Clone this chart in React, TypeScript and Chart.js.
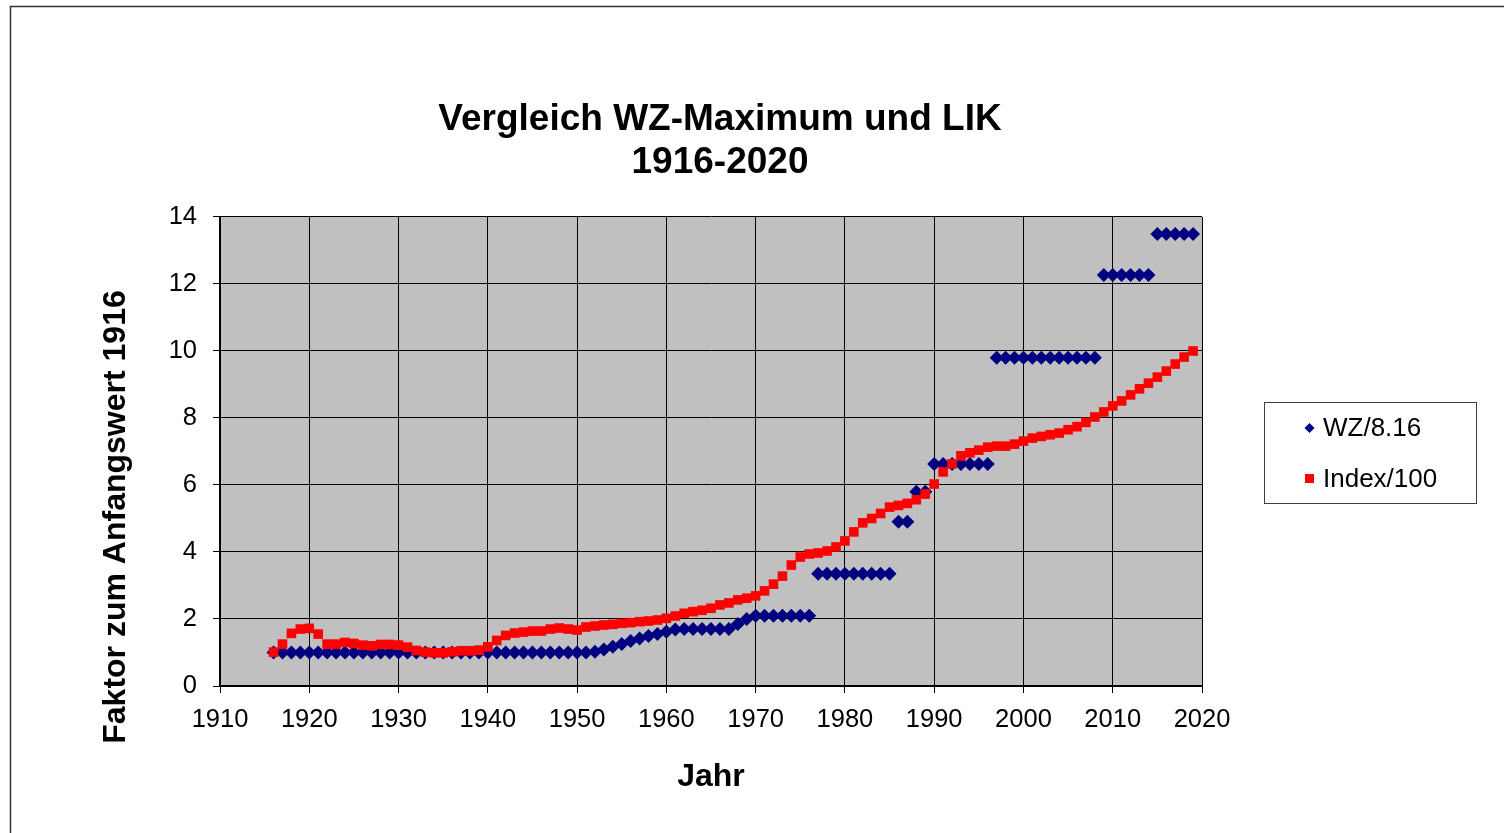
import React, { useEffect, useRef } from 'react';
import { Chart, registerables } from 'chart.js';

Chart.register(...registerables);

const FONT = "'Liberation Sans', Arial, Helvetica, sans-serif";

const titleLines = ['Vergleich WZ-Maximum und LIK', '1916-2020'];
const xAxisTitle = 'Jahr';
const yAxisTitle = 'Faktor zum Anfangswert 1916';
const seriesLabels = ['WZ/8.16', 'Index/100'];

const years = [
  1916, 1917, 1918, 1919, 1920, 1921, 1922, 1923, 1924, 1925,
  1926, 1927, 1928, 1929, 1930, 1931, 1932, 1933, 1934, 1935,
  1936, 1937, 1938, 1939, 1940, 1941, 1942, 1943, 1944, 1945,
  1946, 1947, 1948, 1949, 1950, 1951, 1952, 1953, 1954, 1955,
  1956, 1957, 1958, 1959, 1960, 1961, 1962, 1963, 1964, 1965,
  1966, 1967, 1968, 1969, 1970, 1971, 1972, 1973, 1974, 1975,
  1976, 1977, 1978, 1979, 1980, 1981, 1982, 1983, 1984, 1985,
  1986, 1987, 1988, 1989, 1990, 1991, 1992, 1993, 1994, 1995,
  1996, 1997, 1998, 1999, 2000, 2001, 2002, 2003, 2004, 2005,
  2006, 2007, 2008, 2009, 2010, 2011, 2012, 2013, 2014, 2015,
  2016, 2017, 2018, 2019,
];

// WZ/8.16
const wzValues = [
  1.0, 1.0, 1.0, 1.0, 1.0, 1.0, 1.0, 1.0, 1.0, 1.0,
  1.0, 1.0, 1.0, 1.0, 1.0, 1.0, 1.0, 1.0, 1.0, 1.0,
  1.0, 1.0, 1.0, 1.0, 1.0, 1.0, 1.0, 1.0, 1.0, 1.0,
  1.0, 1.0, 1.0, 1.0, 1.0, 1.0, 1.02, 1.09, 1.17, 1.25,
  1.34, 1.42, 1.49, 1.55, 1.62, 1.69, 1.7, 1.7, 1.7, 1.7,
  1.7, 1.7, 1.85, 2.0, 2.1, 2.1, 2.1, 2.1, 2.1, 2.1,
  2.1, 3.35, 3.35, 3.35, 3.35, 3.35, 3.35, 3.35, 3.35, 3.35,
  4.9, 4.9, 5.8, 5.8, 6.63, 6.63, 6.63, 6.63, 6.63, 6.63,
  6.63, 9.8, 9.8, 9.8, 9.8, 9.8, 9.8, 9.8, 9.8, 9.8,
  9.8, 9.8, 9.8, 12.27, 12.27, 12.27, 12.27, 12.27, 12.27, 13.49,
  13.49, 13.49, 13.49, 13.49,
];

// Index/100
const indexValues = [
  1.01, 1.25, 1.57, 1.7, 1.72, 1.55, 1.25, 1.25, 1.3, 1.27,
  1.22, 1.2, 1.24, 1.24, 1.22, 1.16, 1.06, 1.01, 0.99, 0.99,
  1.02, 1.05, 1.05, 1.07, 1.17, 1.36, 1.51, 1.58, 1.61, 1.64,
  1.64, 1.7, 1.73, 1.7, 1.67, 1.76, 1.79, 1.82, 1.84, 1.87,
  1.89, 1.92, 1.94, 1.97, 2.02, 2.09, 2.17, 2.22, 2.26, 2.32,
  2.42, 2.48, 2.57, 2.62, 2.69, 2.84, 3.04, 3.28, 3.61, 3.85,
  3.94, 3.97, 4.03, 4.15, 4.33, 4.6, 4.87, 5.0, 5.15, 5.34,
  5.39, 5.45, 5.56, 5.73, 6.03, 6.39, 6.63, 6.87, 6.96, 7.04,
  7.13, 7.16, 7.16, 7.22, 7.31, 7.4, 7.45, 7.5, 7.55, 7.65,
  7.74, 7.87, 8.03, 8.18, 8.36, 8.51, 8.69, 8.87, 9.04, 9.22,
  9.4, 9.61, 9.82, 10.0,
];

const xTickValues = [1910, 1920, 1930, 1940, 1950, 1960, 1970, 1980, 1990, 2000, 2010, 2020];
const yTickValues = [0, 2, 4, 6, 8, 10, 12, 14];

const wzColor = '#000080';
const indexColor = '#FF0000';
const plotBg = '#C0C0C0';

const backgroundPlugin = {
  id: 'backgroundPlugin',
  afterLayout(chart: any) {
    // Title is centred a little right of the plot centre in the reference
    const t = chart.titleBlock;
    if (t) {
      t.left += 9;
      t.right += 9;
    }
  },
  beforeDraw(chart: any) {
    const { ctx, chartArea } = chart;
    ctx.save();
    ctx.strokeStyle = '#333333';
    ctx.lineWidth = 1.5;
    ctx.beginPath();
    ctx.moveTo(10.5, chart.height);
    ctx.lineTo(10.5, 6.5);
    ctx.lineTo(chart.width, 6.5);
    ctx.stroke();
    ctx.fillStyle = plotBg;
    ctx.fillRect(chartArea.left, chartArea.top, chartArea.right - chartArea.left, chartArea.bottom - chartArea.top);
    ctx.restore();
  },
};

const yTitlePlugin = {
  id: 'yTitlePlugin',
  afterDraw(chart: any) {
    const { ctx } = chart;
    ctx.save();
    ctx.translate(125, 517);
    ctx.rotate(-Math.PI / 2);
    ctx.font = `bold 32px ${FONT}`;
    ctx.fillStyle = '#000';
    ctx.textAlign = 'center';
    ctx.textBaseline = 'alphabetic';
    ctx.fillText(yAxisTitle, 0, 0);
    ctx.restore();
  },
};

const legendPlugin = {
  id: 'customLegend',
  afterDraw(chart: any) {
    const { ctx } = chart;
    ctx.save();
    ctx.strokeStyle = '#404040';
    ctx.lineWidth = 1;
    ctx.fillStyle = '#ffffff';
    ctx.fillRect(1264.5, 402.5, 212, 101);
    ctx.strokeRect(1264.5, 402.5, 212, 101);

    ctx.font = `26px ${FONT}`;
    ctx.textAlign = 'left';
    ctx.textBaseline = 'middle';

    const y1 = 428;
    ctx.fillStyle = wzColor;
    ctx.beginPath();
    ctx.moveTo(1309.5, y1 - 5);
    ctx.lineTo(1314.5, y1);
    ctx.lineTo(1309.5, y1 + 5);
    ctx.lineTo(1304.5, y1);
    ctx.closePath();
    ctx.fill();
    ctx.fillStyle = '#000';
    ctx.fillText(chart.data.datasets[0].label, 1323, y1 + 1);

    const y2 = 478.5;
    ctx.fillStyle = indexColor;
    ctx.fillRect(1305, y2 - 4.5, 9, 9);
    ctx.fillStyle = '#000';
    ctx.fillText(chart.data.datasets[1].label, 1323, y2 + 1);
    ctx.restore();
  },
};

export default function App() {
  const canvasRef = useRef<HTMLCanvasElement | null>(null);

  useEffect(() => {
    document.body.style.margin = '0';
    const canvas = canvasRef.current;
    if (!canvas) return;

    const wzData = years.map((y, i) => ({ x: y, y: wzValues[i] }));
    const indexData = years.map((y, i) => ({ x: y, y: indexValues[i] }));

    const chart = new Chart(canvas, {
      type: 'scatter',
      data: {
        datasets: [
          {
            label: seriesLabels[0],
            data: wzData,
            order: 1,
            pointStyle: 'rectRot',
            pointRadius: 7,
            pointBackgroundColor: wzColor,
            pointBorderColor: wzColor,
            pointBorderWidth: 0,
            showLine: false,
          },
          {
            label: seriesLabels[1],
            data: indexData,
            order: 0,
            pointStyle: 'rect',
            pointRadius: 6.8,
            pointBackgroundColor: indexColor,
            pointBorderColor: indexColor,
            pointBorderWidth: 0,
            showLine: false,
          },
        ],
      },
      options: {
        animation: false,
        responsive: true,
        maintainAspectRatio: false,
        layout: { padding: { left: 0, right: 302, top: 0, bottom: 0 } },
        plugins: {
          legend: { display: false },
          tooltip: { enabled: false },
          title: {
            display: true,
            fullSize: false,
            text: titleLines,
            color: '#000',
            font: { family: FONT, size: 37, weight: 'bold', lineHeight: 1.162 },
            padding: { top: 98, bottom: 33 },
          },
        },
        scales: {
          x: {
            type: 'linear',
            position: 'bottom',
            min: 1910,
            max: 2020,
            afterBuildTicks: (scale: any) => {
              scale.ticks = xTickValues.map((v) => ({ value: v }));
            },
            afterFit: (scale: any) => {
              scale.height = 147;
            },
            ticks: {
              autoSkip: false,
              maxRotation: 0,
              padding: 12,
              color: '#000',
              font: { family: FONT, size: 25.5 },
              callback: (v: any) => String(v),
            },
            grid: {
              color: '#000',
              lineWidth: 1,
              tickLength: 7,
              tickColor: '#000',
              drawTicks: true,
            },
            border: { display: true, color: '#000', width: 2 },
            title: {
              display: true,
              text: xAxisTitle,
              color: '#000',
              font: { family: FONT, size: 32, weight: 'bold' },
              padding: { top: 0, bottom: 37 },
            },
          },
          y: {
            type: 'linear',
            min: 0,
            max: 14,
            afterBuildTicks: (scale: any) => {
              scale.ticks = yTickValues.map((v) => ({ value: v }));
            },
            afterFit: (scale: any) => {
              scale.width = 220;
            },
            ticks: {
              padding: 16,
              color: '#000',
              font: { family: FONT, size: 25.5 },
              callback: (v: any) => String(v),
            },
            grid: {
              color: '#000',
              lineWidth: 1,
              tickLength: 7,
              tickColor: '#000',
              drawTicks: true,
            },
            border: { display: true, color: '#000', width: 2 },
          },
        },
      },
      plugins: [backgroundPlugin, yTitlePlugin, legendPlugin],
    } as any);

    return () => {
      chart.destroy();
    };
  }, []);

  return (
    <div style={{ position: 'absolute', left: 0, top: 0, width: '1504px', height: '833px', background: '#fff' }}>
      <canvas ref={canvasRef} />
    </div>
  );
}
